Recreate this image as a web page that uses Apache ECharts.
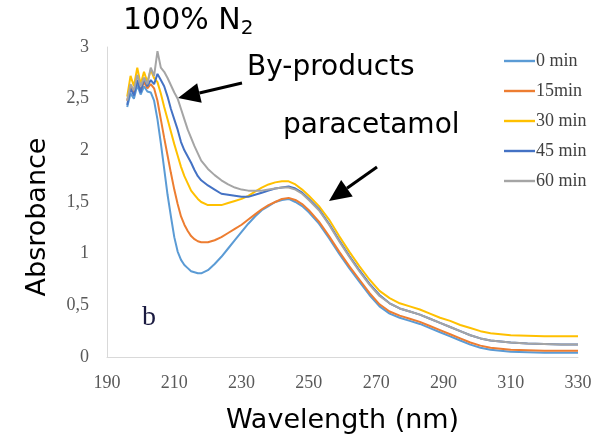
<!DOCTYPE html>
<html>
<head>
<meta charset="utf-8">
<script src="https://cdn.jsdelivr.net/npm/echarts@6/dist/echarts.min.js"></script>
<style>
  html, body { margin: 0; padding: 0; background: #fff; }
  #main { width: 611px; height: 439px; }
</style>
</head>
<body>
<div id="main"></div>
<script>
// wavelength grid (nm)
var wavelengths = [196,197,198,199,200,201,202,203,204,205,206,207,208,209,210,211,212,213,214,215,216,217,218,
    220,222,224,226,228,230,232,234,236,238,240,242,244,246,248,250,
    253,256,259,262,265,268,271,274,277,280,283,286,289,292,295,298,301,304,307,310,
    315,320,325,330];

var seriesNames = ['0 min', '15min', '30 min', '45 min', '60 min'];
var seriesColors = ['#5B9BD5', '#ED7D31', '#FFC000', '#4472C4', '#A5A5A5'];

var abs0 = [2.42,2.55,2.50,2.63,2.54,2.62,2.57,2.56,2.48,2.30,2.07,1.82,1.57,1.36,1.16,1.02,0.94,0.89,0.86,0.83,0.82,0.81,0.81,
    0.84,0.90,0.97,1.05,1.13,1.21,1.29,1.36,1.42,1.46,1.50,1.52,1.53,1.50,1.46,1.40,
    1.29,1.15,1.00,0.86,0.73,0.60,0.49,0.42,0.38,0.35,0.32,0.28,0.24,0.20,0.16,0.12,0.09,0.07,0.06,0.05,
    0.045,0.04,0.04,0.04];
var abs15 = [2.48,2.62,2.56,2.68,2.58,2.66,2.60,2.64,2.60,2.48,2.30,2.12,1.95,1.78,1.62,1.48,1.36,1.28,1.22,1.17,1.14,1.12,1.11,
    1.11,1.13,1.16,1.20,1.24,1.28,1.33,1.38,1.43,1.47,1.50,1.53,1.54,1.52,1.48,1.42,
    1.31,1.17,1.02,0.88,0.75,0.62,0.51,0.44,0.40,0.37,0.34,0.30,0.26,0.22,0.18,0.14,0.11,0.09,0.08,0.07,
    0.065,0.06,0.06,0.06];
var abs30 = [2.52,2.72,2.62,2.80,2.64,2.76,2.66,2.78,2.70,2.66,2.55,2.42,2.30,2.18,2.06,1.95,1.84,1.75,1.68,1.61,1.57,1.53,1.50,
    1.47,1.47,1.47,1.49,1.51,1.53,1.56,1.60,1.64,1.67,1.69,1.70,1.70,1.67,1.62,1.56,
    1.46,1.33,1.17,1.02,0.88,0.75,0.64,0.57,0.52,0.49,0.46,0.42,0.38,0.35,0.31,0.28,0.25,0.23,0.22,0.21,
    0.205,0.20,0.20,0.20];
var abs45 = [2.44,2.60,2.53,2.68,2.56,2.70,2.62,2.68,2.64,2.74,2.68,2.62,2.52,2.40,2.30,2.20,2.08,2.00,1.94,1.88,1.81,1.75,1.71,
    1.66,1.62,1.58,1.57,1.56,1.55,1.55,1.57,1.59,1.61,1.63,1.64,1.65,1.63,1.59,1.53,
    1.43,1.29,1.13,0.98,0.84,0.71,0.60,0.52,0.47,0.44,0.41,0.37,0.33,0.29,0.25,0.21,0.18,0.16,0.15,0.14,
    0.13,0.125,0.12,0.12];
var abs60 = [2.48,2.64,2.58,2.73,2.62,2.70,2.64,2.80,2.72,2.96,2.80,2.76,2.70,2.63,2.56,2.50,2.40,2.30,2.20,2.12,2.04,1.97,1.90,
    1.82,1.76,1.71,1.67,1.64,1.62,1.61,1.61,1.61,1.62,1.63,1.64,1.64,1.62,1.58,1.52,
    1.42,1.28,1.12,0.97,0.83,0.70,0.59,0.52,0.47,0.44,0.41,0.37,0.33,0.29,0.25,0.21,0.18,0.16,0.15,0.14,
    0.13,0.125,0.12,0.12];
var allAbs = [abs0, abs15, abs30, abs45, abs60];

var myChart = echarts.init(document.getElementById('main'));

function pairs(vals) {
    return wavelengths.map(function (w, i) { return [w, vals[i]]; });
}

// black arrow with filled head, pixel coords (annotation only)
function arrow(x1, y1, x2, y2) {
    var dx = x2 - x1, dy = y2 - y1;
    var len = Math.sqrt(dx * dx + dy * dy);
    var ux = dx / len, uy = dy / len;
    var headLen = 22, headW = 10;
    var bx = x2 - ux * headLen, by = y2 - uy * headLen;
    return [
        {type: 'line', shape: {x1: x1, y1: y1, x2: bx, y2: by}, style: {stroke: '#000', lineWidth: 3}},
        {type: 'polygon', shape: {points: [[x2, y2], [bx - uy * headW, by + ux * headW], [bx + uy * headW, by - ux * headW]]},
            style: {fill: '#000'}}
    ];
}

var series = seriesNames.map(function (name, i) {
    return {
        name: name,
        type: 'line',
        data: pairs(allAbs[i]),
        symbol: 'none',
        lineStyle: {color: seriesColors[i], width: 2},
        itemStyle: {color: seriesColors[i]},
        animation: false
    };
});

var option = {
    animation: false,
    grid: {left: 107, right: 33, top: 47, bottom: 80},
    legend: {
        orient: 'vertical',
        left: 499,
        top: 47,
        itemWidth: 31,
        itemHeight: 17,
        itemGap: 12,
        icon: 'path://M0,0 L32,0 L32,2.5 L0,2.5 Z',
        textStyle: {fontFamily: 'Liberation Serif', fontSize: 18, lineHeight: 17, color: '#404040', padding: [0, 0, 0, -4]},
        data: seriesNames
    },
    xAxis: {
        type: 'value',
        min: 190, max: 330, interval: 20,
        axisLine: {show: true, lineStyle: {color: '#D9D9D9', width: 1}},
        axisTick: {show: false},
        splitLine: {show: false},
        axisLabel: {fontFamily: 'Liberation Serif', fontSize: 18, color: '#595959', margin: 17},
        name: 'Wavelength (nm)',
        nameLocation: 'middle',
        nameGap: 50,
        nameTextStyle: {fontFamily: 'DejaVu Sans', fontSize: 27, color: '#000'}
    },
    yAxis: {
        type: 'value',
        min: 0, max: 3, interval: 0.5,
        axisLine: {show: true, lineStyle: {color: '#D9D9D9', width: 1}},
        axisTick: {show: false},
        splitLine: {show: false},
        axisLabel: {
            fontFamily: 'Liberation Serif', fontSize: 18, color: '#595959', margin: 18,
            formatter: function (v) { return String(v).replace('.', ','); }
        }
    },
    graphic: [
        {type: 'text', x: 38, y: 217, rotation: Math.PI / 2, style: {
            text: 'Absrobance', fontFamily: 'DejaVu Sans', fontSize: 27, fill: '#000', align: 'center', verticalAlign: 'middle'
        }},
        {type: 'text', left: 123, top: 6, style: {
            text: '100% N{s|2}', fontFamily: 'DejaVu Sans', fontSize: 30, fill: '#000',
            rich: {s: {fontFamily: 'DejaVu Sans', fontSize: 20, fill: '#000', padding: [16, 0, 0, 0]}}
        }},
        {type: 'text', left: 247, top: 54, style: {text: 'By-products', fontFamily: 'DejaVu Sans', fontSize: 28, fill: '#000'}},
        {type: 'text', left: 283, top: 112, style: {text: 'paracetamol', fontFamily: 'DejaVu Sans', fontSize: 28, fill: '#000'}},
        {type: 'text', left: 142, top: 304, style: {text: 'b', fontFamily: 'Liberation Serif', fontSize: 28, fill: '#1a1a40'}}
    ].concat(arrow(242, 83, 178, 98)).concat(arrow(377, 167, 329, 201)),
    series: series
};

myChart.setOption(option);
</script>
</body>
</html>
